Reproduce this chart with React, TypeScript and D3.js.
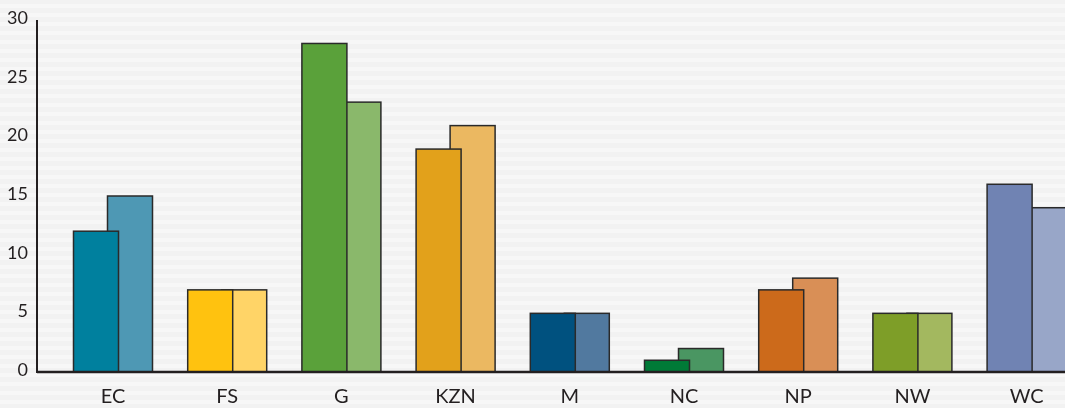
import React, { useEffect, useRef } from "react";
import * as d3 from "d3";

// data
const provinces = ["EC", "FS", "G", "KZN", "M", "NC", "NP", "NW", "WC"];
const firstSeries = [12, 7, 28, 19, 5, 1, 7, 5, 16];
const secondSeries = [15, 7, 23, 21, 5, 2, 8, 5, 14];
const yTicks = [0, 5, 10, 15, 20, 25, 30];

// province colours: saturated for the first bar, washed out for the second
const darkColors = ["#00809e", "#ffc20f", "#5aa13a", "#e2a11b", "#00517f", "#007a37", "#cc6a1b", "#7e9e28", "#7083b3"];
const lightColors = ["#4e98b4", "#ffd467", "#8ab86b", "#ebb861", "#51799f", "#4a9662", "#d98f56", "#a3b85f", "#98a6c8"];

const App = () => {
  const svgRef = useRef<SVGSVGElement>(null);

  useEffect(() => {
    const width = 1065;
    const height = 408;
    const axisX = 37;
    const baseY = 372;
    const topY = 20;
    const step = 114.2;
    const barW = 45;
    const offset = 34; // second bar starts 34px in, dark bar overlaps it

    const pi = 35.2 / step;
    const po = 36.5 / step;
    const x = d3
      .scaleBand()
      .domain(provinces)
      .range([axisX, axisX + step * (provinces.length - pi + 2 * po)])
      .paddingInner(pi)
      .paddingOuter(po);
    const y = d3.scaleLinear().domain([0, 30]).range([baseY, topY]);

    const svg = d3.select(svgRef.current);
    svg.selectAll("*").remove();
    svg.attr("width", width).attr("height", height).attr("viewBox", [0, 0, width, height]);

    // striped grey background
    const defs = svg.append("defs");
    const pat = defs
      .append("pattern")
      .attr("id", "stripes")
      .attr("width", 8)
      .attr("height", 9)
      .attr("patternUnits", "userSpaceOnUse");
    pat.append("rect").attr("width", 8).attr("height", 9).attr("fill", "#f2f2f2");
    pat.append("rect").attr("y", 4).attr("width", 8).attr("height", 4).attr("fill", "#f7f7f7");
    svg.append("rect").attr("width", width).attr("height", height).attr("fill", "url(#stripes)");

    const font = "'Lato', 'Open Sans', sans-serif";

    // second series goes underneath
    svg
      .append("g")
      .selectAll("rect")
      .data(secondSeries)
      .join("rect")
      .attr("x", (d, i) => x(provinces[i])! + offset)
      .attr("y", (d) => y(d))
      .attr("width", barW)
      .attr("height", (d) => y(0) - y(d))
      .attr("fill", (d, i) => lightColors[i])
      .attr("stroke", "#2a2a2a")
      .attr("stroke-width", 1.5);

    svg
      .append("g")
      .selectAll("rect")
      .data(firstSeries)
      .join("rect")
      .attr("x", (d, i) => x(provinces[i])!)
      .attr("y", (d) => y(d))
      .attr("width", barW)
      .attr("height", (d) => y(0) - y(d))
      .attr("fill", (d, i) => darkColors[i])
      .attr("stroke", "#2a2a2a")
      .attr("stroke-width", 1.5);

    // y axis: just a spine and labels, no ticks
    const yAxis = svg
      .append("g")
      .attr("transform", `translate(${axisX},0)`)
      .call(d3.axisLeft(y).tickValues(yTicks).tickSize(0).tickPadding(9))
      .style("font-family", font)
      .style("font-size", "18px");
    yAxis.select(".domain").remove();
    yAxis.selectAll(".tick text").attr("fill", "#231f20").attr("dy", "0.2em");
    svg
      .append("line")
      .attr("x1", axisX)
      .attr("x2", axisX)
      .attr("y1", topY)
      .attr("y2", baseY + 1)
      .attr("stroke", "#231f20")
      .attr("stroke-width", 2);

    // baseline and category labels
    svg
      .append("line")
      .attr("x1", axisX)
      .attr("x2", width)
      .attr("y1", baseY)
      .attr("y2", baseY)
      .attr("stroke", "#231f20")
      .attr("stroke-width", 2.5);

    svg
      .append("g")
      .selectAll("text")
      .data(provinces)
      .join("text")
      .attr("x", (d) => x(d)! + x.bandwidth() / 2)
      .attr("y", 403)
      .attr("text-anchor", "middle")
      .attr("fill", "#231f20")
      .style("font-family", font)
      .style("font-size", "20px")
      .text((d) => d);
  }, []);

  return (
    <div style={{ position: "fixed", left: 0, top: 0 }}>
      <svg ref={svgRef} style={{ display: "block" }} />
    </div>
  );
};

export default App;
